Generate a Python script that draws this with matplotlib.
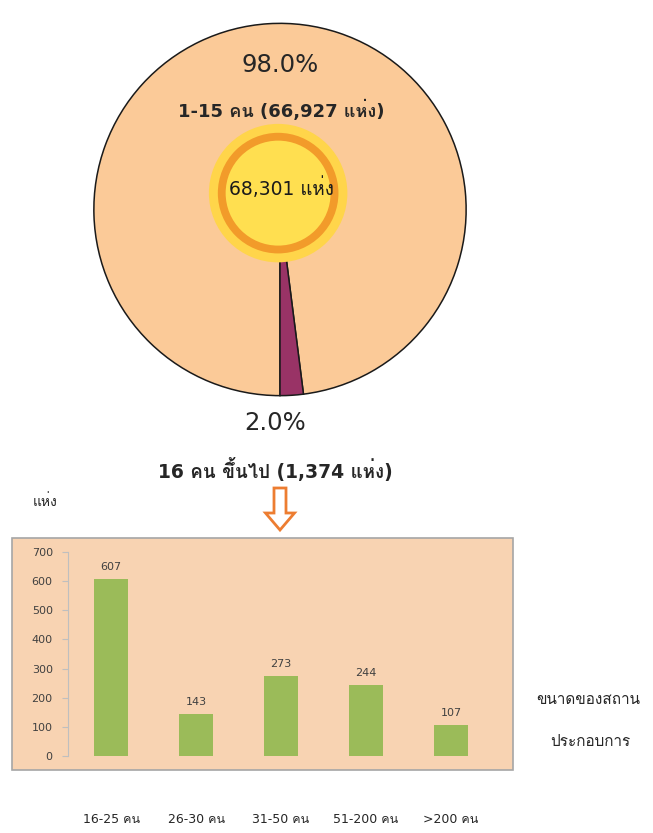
import numpy as np
import matplotlib
matplotlib.use('Agg')
import matplotlib.pyplot as plt
import matplotlib.patches as mpatches
from matplotlib import font_manager
from matplotlib.ft2font import FT2Font


# look for an installed font that has Thai glyphs, DejaVu first for latin
def find_thai_font():
    for f in font_manager.fontManager.ttflist:
        try:
            if 0x0E01 in FT2Font(f.fname).get_charmap():
                return f.name
        except Exception:
            pass
    return 'DejaVu Sans'

thai = find_thai_font()
plt.rcParams['font.family'] = ['DejaVu Sans', thai]

# pie data
groups = ['1-15 คน', '16 คน ขึ้นไป']
counts = [66927, 1374]
total = 68301

# bar data
sizes = ['16-25 คน', '26-30 คน', '31-50 คน', '51-200 คน', '>200 คน']
firms = [607, 143, 273, 244, 107]
yticks = [0, 100, 200, 300, 400, 500, 600, 700]

W, H = 653, 833
fig = plt.figure(figsize=(W/100, H/100), dpi=100)

def px(x, y):
    return x/W, 1 - y/H

# background box for the bar chart
bg = fig.add_axes([0, 0, 1, 1])
bg.set_xlim(0, W)
bg.set_ylim(H, 0)
bg.axis('off')
bg.add_patch(mpatches.Rectangle((12, 538), 501, 232, fc='#F8D3B2', ec='#A6A6A6', lw=1.2))
# hollow arrow pointing down
bg.add_patch(mpatches.FancyArrow(280, 488, 0, 42, width=12, head_width=29, head_length=17,
                                 length_includes_head=True, fc='white', ec='#ED7D31', lw=2))

# pie
cx, cy, r = 280, 209.5, 188
l, b = px(cx - r, cy + r)
pax = fig.add_axes([l, b, 2*r/W, 2*r/H])
pax.pie(counts, colors=['#FBCA98', '#993366'], startangle=-90, counterclock=False,
        wedgeprops=dict(edgecolor='#1a1a1a', linewidth=1.1))
pax.set_xlim(-1.01, 1.01)
pax.set_ylim(-1.01, 1.01)
pax.set_aspect('auto')
# centre disc
pax.add_patch(mpatches.Circle((-0.01, 0.088), 0.372, fc='#FFD54A', ec='none', zorder=5))
pax.add_patch(mpatches.Circle((-0.01, 0.088), 0.324, fc='#F29B2A', ec='none', zorder=6))
pax.add_patch(mpatches.Circle((-0.01, 0.088), 0.282, fc='#FFDF50', ec='none', zorder=7))

pct = [100*c/total for c in counts]
fig.text(*px(280, 65), f'{pct[0]:.1f}%', ha='center', va='center', fontsize=17.5, color='#262626')
fig.text(*px(281, 110), f'{groups[0]} ({counts[0]:,} แห่ง)', ha='center', va='center',
         fontsize=13, fontweight='bold', color='#262626')
fig.text(*px(281, 188), f'{total:,} แห่ง', ha='center', va='center', fontsize=13.5, color='#1a1a1a')
fig.text(*px(275, 423), f'{pct[1]:.1f}%', ha='center', va='center', fontsize=17.5, color='#262626')
fig.text(*px(275, 470), f'{groups[1]} ({counts[1]:,} แห่ง)', ha='center', va='center',
         fontsize=13.5, fontweight='bold', color='#262626')

# bar chart
x0, x1, y0, y1 = 68, 500, 756, 552
l, b = px(x0, y0)
ax = fig.add_axes([l, b, (x1 - x0)/W, (y0 - y1)/H])
ax.patch.set_alpha(0)
x = np.arange(len(firms))
bars = ax.bar(x, firms, width=0.4, color='#9BBB59')
ax.bar_label(bars, padding=5, fontsize=8, color='#404040')
ax.set_xlim(-0.506, 4.576)
ax.set_ylim(0, 700)
ax.set_yticks(yticks)
ax.tick_params(axis='y', labelsize=8, labelcolor='#404040', color='#BFBFBF', length=4, pad=7)
ax.set_xticks(x, sizes)
ax.tick_params(axis='x', length=0, pad=41, labelsize=9, labelcolor='#262626')
for s in ['top', 'right', 'bottom']:
    ax.spines[s].set_visible(False)
ax.spines['left'].set_color('#BFBFBF')

fig.text(*px(45, 502), 'แห่ง', ha='center', va='center', fontsize=10, color='#262626')
fig.text(*px(588, 700), 'ขนาดของสถาน', ha='center', va='center', fontsize=11, color='#262626')
fig.text(*px(590, 742), 'ประกอบการ', ha='center', va='center', fontsize=11, color='#262626')

fig.savefig('out.png', dpi=100)
